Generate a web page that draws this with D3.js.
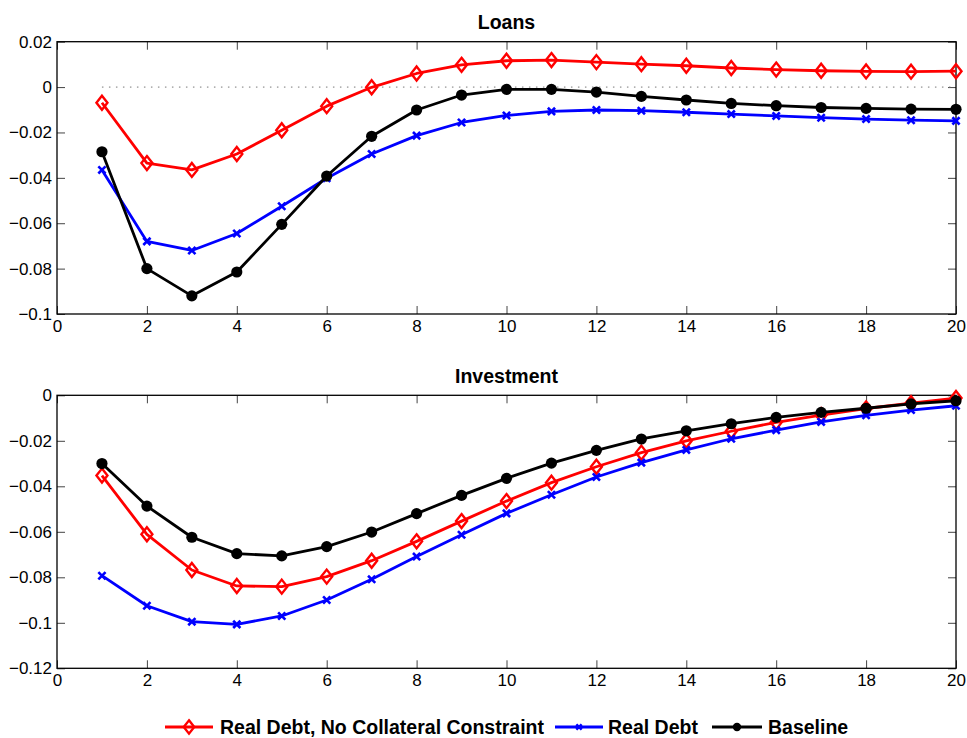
<!DOCTYPE html>
<html>
<head>
<meta charset="utf-8">
<script src="https://cdn.jsdelivr.net/npm/d3@7"></script>
<style>
  html, body { margin: 0; padding: 0; background: #fff; }
  svg { display: block; font-family: "Liberation Sans", Arial, Helvetica, sans-serif; }
</style>
</head>
<body>
<svg id="chart" width="967" height="738"></svg>
<script>
// Horizon (periods after the shock)
const periods = d3.range(1, 21);

// Loans responses
const loansNoCollateral = [-0.0069, -0.0335, -0.0365, -0.0295, -0.0190, -0.0084, -0.0001, 0.0060, 0.0098, 0.0116,
                           0.0119, 0.0110, 0.0101, 0.0094, 0.0084, 0.0077, 0.0072, 0.0069, 0.0068, 0.0070];
const loansRealDebt     = [-0.0365, -0.0680, -0.0720, -0.0645, -0.0525, -0.0402, -0.0295, -0.0214, -0.0156, -0.0125,
                           -0.0107, -0.0101, -0.0104, -0.0111, -0.0119, -0.0127, -0.0135, -0.0141, -0.0146, -0.0149];
const loansBaseline     = [-0.0285, -0.0800, -0.0920, -0.0815, -0.0605, -0.0392, -0.0217, -0.0101, -0.0035, -0.0010,
                           -0.0010, -0.0022, -0.0041, -0.0057, -0.0072, -0.0082, -0.0090, -0.0094, -0.0097, -0.0098];

// Investment responses
const invNoCollateral = [-0.0353, -0.0611, -0.0768, -0.0838, -0.0841, -0.0797, -0.0727, -0.0642, -0.0553, -0.0465,
                         -0.0384, -0.0314, -0.0252, -0.0200, -0.0158, -0.0119, -0.0087, -0.0058, -0.0035, -0.0012];
const invRealDebt     = [-0.0793, -0.0925, -0.0995, -0.1007, -0.0970, -0.0900, -0.0809, -0.0709, -0.0613, -0.0519,
                         -0.0437, -0.0359, -0.0296, -0.0240, -0.0191, -0.0153, -0.0117, -0.0088, -0.0065, -0.0046];
const invBaseline     = [-0.0300, -0.0487, -0.0624, -0.0696, -0.0706, -0.0665, -0.0601, -0.0520, -0.0440, -0.0365,
                         -0.0298, -0.0242, -0.0192, -0.0156, -0.0125, -0.0097, -0.0075, -0.0057, -0.0038, -0.0024];

// Axis ticks
const xTicks = [0, 2, 4, 6, 8, 10, 12, 14, 16, 18, 20];
const loansYTicks = [0.02, 0, -0.02, -0.04, -0.06, -0.08, -0.1];
const invYTicks = [0, -0.02, -0.04, -0.06, -0.08, -0.1, -0.12];

const seriesNames = ["Real Debt, No Collateral Constraint", "Real Debt", "Baseline"];
const seriesColors = ["#ff0000", "#0000ff", "#000000"];
const seriesMarkers = ["diamond", "cross", "circle"];

const svg = d3.select("#chart");
const fmt = v => (v === 0 ? "0" : String(v).replace("-", "\u2212"));

const left = 57, right = 956;
const x = d3.scaleLinear().domain([0, 20]).range([left, right]);

function drawMarker(g, type, color, cx, cy, scale) {
  const s = scale || 1;
  if (type === "diamond") {
    const w = 5.5 * s, h = 7 * s;
    g.append("path")
      .attr("d", `M${cx},${cy - h}L${cx + w},${cy}L${cx},${cy + h}L${cx - w},${cy}Z`)
      .attr("fill", "none").attr("stroke", color).attr("stroke-width", 2.4);
  } else if (type === "cross") {
    const r = 3.6 * s;
    g.append("path")
      .attr("d", `M${cx - r},${cy - r}L${cx + r},${cy + r}M${cx - r},${cy + r}L${cx + r},${cy - r}`)
      .attr("fill", "none").attr("stroke", color).attr("stroke-width", 2.6);
  } else {
    g.append("circle").attr("cx", cx).attr("cy", cy).attr("r", 5.6 * s).attr("fill", color);
  }
}

function panel(top, bottom, domain, yTicks, title, seriesList, zeroLine) {
  const y = d3.scaleLinear().domain(domain).range([bottom, top]);
  const g = svg.append("g");

  // title
  g.append("text").attr("x", (left + right) / 2).attr("y", top - 12.5)
    .attr("text-anchor", "middle").attr("font-size", 19.5).attr("font-weight", "bold").text(title);

  // axes with inward ticks on all four sides
  const tickLen = 8;
  g.append("g").attr("transform", `translate(0,${bottom})`)
    .call(d3.axisBottom(x).tickValues(xTicks).tickSize(-tickLen).tickPadding(6).tickFormat(fmt))
    .call(a => a.select(".domain").remove());
  g.append("g").attr("transform", `translate(0,${top})`)
    .call(d3.axisTop(x).tickValues(xTicks).tickSize(-tickLen).tickFormat(""))
    .call(a => a.select(".domain").remove());
  g.append("g").attr("transform", `translate(${left},0)`)
    .call(d3.axisLeft(y).tickValues(yTicks).tickSize(-tickLen).tickPadding(5).tickFormat(fmt))
    .call(a => a.select(".domain").remove());
  g.append("g").attr("transform", `translate(${right},0)`)
    .call(d3.axisRight(y).tickValues(yTicks).tickSize(-tickLen).tickFormat(""))
    .call(a => a.select(".domain").remove());
  g.selectAll(".tick line").attr("stroke", "#444").attr("stroke-width", 1);
  g.selectAll(".tick text").attr("font-size", 17).attr("fill", "#000")
    .attr("font-family", "'Liberation Sans', Arial, Helvetica, sans-serif");

  if (zeroLine) {
    g.append("line").attr("x1", x(1)).attr("x2", x(20)).attr("y1", y(0)).attr("y2", y(0))
      .attr("stroke", "#777").attr("stroke-width", 1).attr("stroke-dasharray", "1.5,5.5");
  }

  // frame
  g.append("rect").attr("x", left).attr("y", top).attr("width", right - left).attr("height", bottom - top)
    .attr("fill", "none").attr("stroke", "#000").attr("stroke-width", 1.3);

  const line = d3.line().x((d, i) => x(periods[i])).y(d => y(d));
  seriesList.forEach((vals, k) => {
    g.append("path").datum(vals).attr("d", line)
      .attr("fill", "none").attr("stroke", seriesColors[k]).attr("stroke-width", 2.8)
      .attr("stroke-linejoin", "round");
    const mg = g.append("g");
    vals.forEach((v, i) => drawMarker(mg, seriesMarkers[k], seriesColors[k], x(periods[i]), y(v)));
  });
}

panel(41.7, 314, [-0.1, 0.02], loansYTicks, "Loans",
      [loansNoCollateral, loansRealDebt, loansBaseline], true);
panel(395.3, 668.3, [-0.12, 0], invYTicks, "Investment",
      [invNoCollateral, invRealDebt, invBaseline], false);

// legend
const legendY = 727;
const legendItems = [
  { x0: 165, x1: 213, tx: 220 },
  { x0: 555, x1: 603, tx: 608 },
  { x0: 712, x1: 762, tx: 768 }
];
const lg = svg.append("g");
legendItems.forEach((it, k) => {
  lg.append("line").attr("x1", it.x0).attr("x2", it.x1).attr("y1", legendY).attr("y2", legendY)
    .attr("stroke", seriesColors[k]).attr("stroke-width", 2.8);
  drawMarker(lg, seriesMarkers[k], seriesColors[k], (it.x0 + it.x1) / 2, legendY, k === 0 ? 0.95 : 0.75);
  lg.append("text").attr("x", it.tx).attr("y", legendY + 7).attr("font-size", 19.5)
    .attr("font-weight", "bold").text(seriesNames[k]);
});
</script>
</body>
</html>
